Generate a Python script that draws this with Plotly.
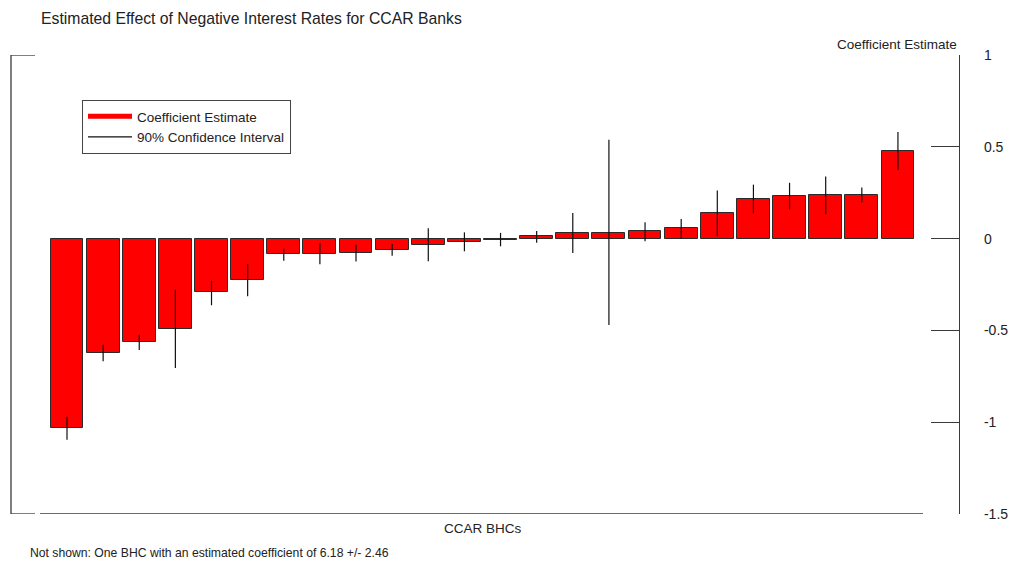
import plotly.graph_objects as go

# Coefficient estimates for each CCAR BHC, sorted ascending
coef = [-1.03, -0.623, -0.565, -0.49, -0.293, -0.223, -0.085, -0.084,
        -0.080, -0.062, -0.035, -0.017, -0.005, 0.012, 0.031, 0.033,
        0.040, 0.058, 0.140, 0.216, 0.230, 0.238, 0.238, 0.478]
# 90% confidence interval bounds
ci_low = [-1.095, -0.668, -0.607, -0.705, -0.363, -0.314, -0.120, -0.140,
          -0.125, -0.093, -0.124, -0.069, -0.042, -0.023, -0.078, -0.470,
          -0.015, 0.002, 0.013, 0.138, 0.158, 0.132, 0.196, 0.374]
ci_high = [-0.970, -0.578, -0.523, -0.278, -0.229, -0.138, -0.054, -0.025,
           -0.033, -0.029, 0.056, 0.034, 0.031, 0.042, 0.140, 0.538,
           0.089, 0.107, 0.262, 0.294, 0.304, 0.338, 0.278, 0.581]
y_ticks = [1, 0.5, 0, -0.5, -1, -1.5]
y_tick_text = ["1", "0.5", "0", "-0.5", "-1", "-1.5"]

xs = list(range(len(coef)))
FONT = "Liberation Sans, Arial, sans-serif"
AX = "#3a3a3a"
TXT = "#222222"

fig = go.Figure()
fig.add_trace(go.Bar(
    x=xs, y=coef, width=0.91,
    marker=dict(color="#ff0000", line=dict(color="#2a2a2a", width=1)),
    showlegend=False, hoverinfo="y",
))

# Confidence-interval whiskers as one broken line trace
ci_x, ci_y = [], []
for x, lo, hi in zip(xs, ci_low, ci_high):
    ci_x += [x, x, None]
    ci_y += [lo, hi, None]

# Legend entries drawn as line keys
fig.add_trace(go.Scatter(
    x=[None], y=[None], mode="lines", name="Coefficient Estimate",
    line=dict(color="#ff0000", width=5),
))
fig.add_trace(go.Scatter(
    x=ci_x, y=ci_y, mode="lines", name="90% Confidence Interval",
    line=dict(color="#111111", width=1.2), hoverinfo="skip",
))

# Left bracket and bottom baseline
L = 24 / 948
fig.add_shape(type="line", xref="paper", yref="y", x0=0, x1=0, y0=-1.5, y1=1,
              line=dict(color=AX, width=1.3))
fig.add_shape(type="line", xref="paper", yref="y", x0=0, x1=L, y0=1, y1=1,
              line=dict(color=AX, width=1.3))
fig.add_shape(type="line", xref="paper", yref="y", x0=0, x1=L, y0=-1.5, y1=-1.5,
              line=dict(color=AX, width=1.3))
fig.add_shape(type="line", xref="paper", yref="y", x0=29 / 948, x1=912 / 948,
              y0=-1.5, y1=-1.5, line=dict(color=AX, width=1.3))

fig.update_layout(
    width=1013, height=562,
    margin=dict(l=11, r=54, t=55, b=48),
    paper_bgcolor="white", plot_bgcolor="white",
    font=dict(family=FONT, size=13.5, color=TXT),
    title=dict(text="Estimated Effect of Negative Interest Rates for CCAR Banks",
               x=41 / 1013, xanchor="left", y=1 - 18 / 562, yanchor="middle",
               font=dict(size=15.75, color=TXT)),
    xaxis=dict(range=[-1.55, 24.69], showticklabels=False, ticks="",
               showgrid=False, zeroline=False, showline=False, automargin=False),
    yaxis=dict(range=[-1.5, 1], side="right", tickvals=y_ticks,
               ticktext=y_tick_text, ticks="inside", ticklen=28, tickwidth=1.3,
               tickcolor=AX, showline=True, linecolor=AX, linewidth=1.3,
               showgrid=False, zeroline=False, ticklabelstandoff=21,
               automargin=False, tickfont=dict(size=14, color=TXT)),
    legend=dict(x=71 / 948, y=(514 - 100) / 459, xanchor="left", yanchor="top",
                bordercolor="#444444", borderwidth=1, bgcolor="white",
                itemwidth=44, tracegroupgap=0,
                font=dict(size=13.5, color=TXT)),
    bargap=0,
    annotations=[
        dict(text="Coefficient Estimate", xref="paper", yref="paper",
             x=1, y=1 + 11 / 459, xanchor="right", yanchor="middle",
             showarrow=False, font=dict(size=13.5, color=TXT)),
        dict(text="CCAR BHCs", xref="paper", yref="paper",
             x=(483 - 11) / 948, y=-14 / 459, xanchor="center", yanchor="middle",
             showarrow=False, font=dict(size=13.5, color=TXT)),
        dict(text="Not shown: One BHC with an estimated coefficient of 6.18 +/- 2.46",
             xref="paper", yref="paper", x=(28 - 11) / 948, y=-39 / 459,
             xanchor="left", yanchor="middle", showarrow=False,
             font=dict(size=12.2, color=TXT)),
    ],
)

fig.write_html("out.html")
